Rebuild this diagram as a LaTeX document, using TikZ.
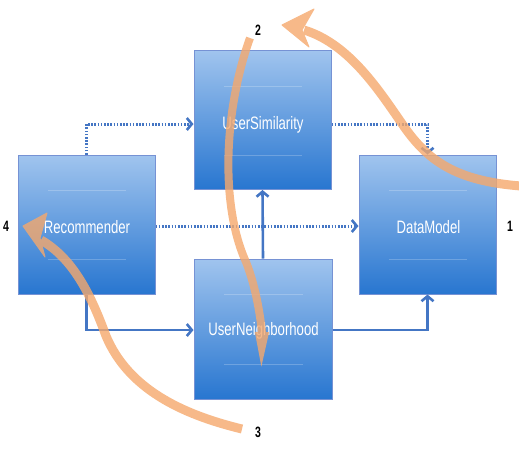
\documentclass[tikz,border=0pt]{standalone}
\usepackage{fontspec}
\setmainfont{Liberation Sans}
\usetikzlibrary{arrows.meta}
\definecolor{boxtop}{RGB}{160,196,238}
\definecolor{boxbot}{RGB}{40,118,208}
\definecolor{boxedge}{RGB}{118,146,212}
\definecolor{conn}{RGB}{68,118,196}
\definecolor{orng}{RGB}{245,168,108}
\begin{document}
\begin{tikzpicture}[x=1pt,y=-1pt,
  box/.style={draw=boxedge, line width=1pt, top color=boxtop, bottom color=boxbot,
    minimum width=137pt, minimum height=139pt, inner sep=0pt},
  boxtxt/.style={text=white, font=\fontsize{18}{18}\selectfont, xscale=0.73, inner sep=0pt},
  numlbl/.style={text=black, font=\fontsize{15}{15}\selectfont\bfseries, xscale=0.7, inner sep=0pt},
  solidconn/.style={draw=conn, line width=2.6pt, -{Straight Barb[length=5pt,width=12pt,line width=2.6pt]}},
  dotconn/.style={draw=conn, line width=3pt, dash pattern=on 1.6pt off 1.6pt, -{Straight Barb[length=5pt,width=12pt,line width=2.6pt]}},
  orarrow/.style={draw=orng, line width=9pt},
  orhead/.style={fill=orng, draw=orng, line width=1pt, line join=round}
]
\useasboundingbox (0,0) rectangle (519,448);

% boxes
\node[box] (us) at (262.5,120) {};
\node[box] (rec) at (86.5,224.5) {};
\node[box] (dm) at (427.5,224.5) {};
\node[box, minimum width=138pt, minimum height=140pt] (un) at (263,329) {};

% faint bands
\foreach \b in {us,rec,dm,un}{
  \draw[white, opacity=0.22, line width=0.8pt] ([xshift=30pt,yshift=-36pt]\b.north west) -- ([xshift=-30pt,yshift=-36pt]\b.north east);
  \draw[white, opacity=0.22, line width=0.8pt] ([xshift=30pt,yshift=35pt]\b.south west) -- ([xshift=-30pt,yshift=35pt]\b.south east);
}

% labels
\node[boxtxt] (ust) at (263,125) {UserSimilarity};
\node[boxtxt] (rect) at (87,227) {Recommender};
\node[boxtxt] (dmt) at (428.5,227) {DataModel};
\node[boxtxt] (unt) at (263.5,331) {UserNeighborhood};

% connectors
\draw[dotconn] (rec.north) |- ([yshift=-4pt]us.west);
\draw[dotconn] ([yshift=-4pt]us.east) -| (dm.north);
\draw[dotconn] ([yshift=-1.5pt]rec.east) -- ([yshift=-1.5pt]dm.west);
\draw[solidconn] (un.north) -- (us.south);
\draw[solidconn] (rec.south) |- ([yshift=-1pt]un.west);
\draw[solidconn] ([yshift=-1pt]un.east) -| (dm.south);

% numbers
\node[numlbl] (n2) at (258,30) {2};
\node[numlbl] (n4) at (6,226) {4};
\node[numlbl] (n1) at (510,226) {1};
\node[numlbl] (n3) at (258,432) {3};

% orange arrows
\coordinate (o1s) at (521,186);
\coordinate (o1e) at (304,30);
\coordinate (o2s) at (250,38);
\coordinate (o2e) at (261,387);
\coordinate (o3s) at (242,429);
\coordinate (o3e) at (41,240);
\begin{scope}[transparency group, opacity=0.8]
\draw[orarrow]
  (o1s) .. controls (455,181) and (428,160) .. (405,128)
        .. controls (380,92) and (350,44) .. (o1e);
\filldraw[orhead] (282,25) -- (314,9) -- (302,30) -- (309,47) -- cycle;
\end{scope}
\begin{scope}[transparency group, opacity=0.8]
\draw[orarrow, line width=8pt, -{Triangle[length=55pt,width=11pt]}]
  (o2s) .. controls (224,110) and (220,205) .. (246,262)
        .. controls (258,292) and (262,330) .. (o2e);
\end{scope}
\begin{scope}[transparency group, opacity=0.8]
\draw[orarrow]
  (o3s) .. controls (180,414) and (128,388) .. (106,336)
        .. controls (90,292) and (72,258) .. (o3e);
\filldraw[orhead] (23,226) -- (47,213) -- (40,238) -- (45,257) -- cycle;
\end{scope}
\end{tikzpicture}
\end{document}
